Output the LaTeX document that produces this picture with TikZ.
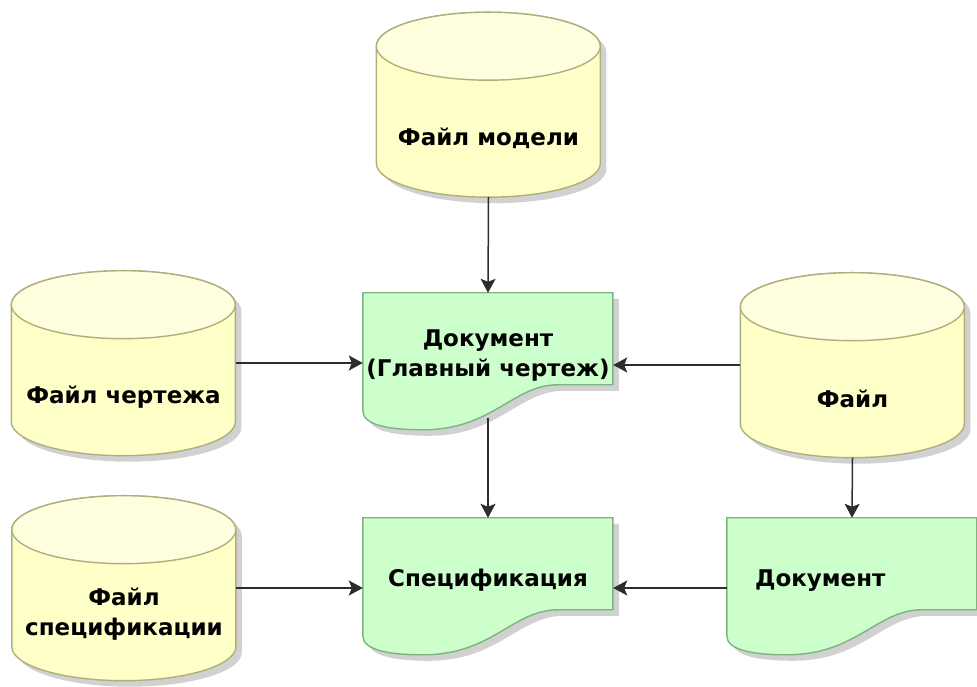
\documentclass[tikz,border=0pt]{standalone}
\usepackage{fontspec}
\setmainfont{DejaVu Sans}
\usetikzlibrary{shadows,arrows.meta,backgrounds}
\definecolor{cylfill}{RGB}{255,255,200}
\definecolor{cyltop}{RGB}{255,255,224}
\definecolor{cylline}{RGB}{175,175,125}
\definecolor{docfill}{RGB}{204,255,204}
\definecolor{docline}{RGB}{125,180,125}
\definecolor{arrline}{RGB}{45,45,45}
\tikzset{
  softshadow/.style={drop shadow={shadow xshift=6pt, shadow yshift=-6pt, opacity=.3, fill=black!60}},
  boldtext/.style={font=\bfseries\fontsize{23}{30}\selectfont, align=center},
  store/.style={minimum width=224pt, minimum height=185pt, inner sep=0pt},
  storebody/.style={draw=cylline, line width=1.4pt, fill=cylfill, softshadow},
  storecap/.style={draw=cylline, line width=1.4pt, fill=cyltop},
  paper/.style={minimum width=250pt, minimum height=125pt, inner sep=0pt, boldtext},
  paperline/.style={draw=docline, line width=1.4pt, fill=docfill, softshadow},
  flow/.style={-{Stealth[length=14pt, width=15pt, inset=3pt]}, line width=1.5pt, draw=arrline}
}
\begin{document}
\begin{tikzpicture}[x=1pt, y=1pt]
  \useasboundingbox (0,0) rectangle (977,687);

  % --- Bestanden (cilinders) ---
  \node[store, label={[boldtext, yshift=-34pt]center:Файл модели}] (model) at (488.5,582.5) {};
  \node[store, label={[boldtext, yshift=-34pt]center:Файл чертежа}] (drawing) at (123.5,324) {};
  \node[store, label={[boldtext, yshift=-34pt]center:Файл}] (file) at (852.5,322) {};
  \node[store, label={[boldtext, yshift=-26pt]center:{Файл\\спецификации}}] (specfile) at (124,99) {};

  % --- Documenten ---
  \node[paper] (doc1) at (488,331.5) {Документ\\(Главный чертеж)};
  \node[paper] (spec) at (488,106.5) {Спецификация};
  \node[paper, text width=194pt, inner xsep=28pt, align=left] (doc2) at (852,106.5) {Документ};

  \begin{scope}[on background layer]
    % Cilindervorm
    \foreach \c in {model, drawing, file, specfile} {
      \begin{scope}[shift={(\c.south west)}]
        \path[storebody] (0,151) -- (0,34)
          arc[start angle=180, end angle=360, x radius=112pt, y radius=34pt]
          -- (224,151)
          arc[start angle=0, end angle=180, x radius=112pt, y radius=34pt] -- cycle;
        \draw[storecap] (112,151) ellipse[x radius=112pt, y radius=34pt];
      \end{scope}
    }
    % Documentvorm met golvende onderkant
    \foreach \d in {doc1, spec, doc2} {
      \begin{scope}[shift={(\d.north west)}]
        \draw[paperline] (0,0) -- (250,0) -- (250,-92) -- (195,-92)
          .. controls (150,-92) and (130,-137) .. (60,-137)
          .. controls (25,-137) and (0,-132) .. (0,-118) -- cycle;
      \end{scope}
    }
  \end{scope}

  % --- Verbindingen ---
  \draw[flow] (model.south) -- (doc1.north);
  \draw[flow] (drawing.east) -- (drawing.east -| doc1.west);
  \draw[flow] (file.west) -- (file.west -| doc1.east);
  \draw[flow] (doc1.south) -- (spec.north);
  \draw[flow] (file.south) -- (doc2.north);
  \draw[flow] (specfile.east) -- (specfile.east -| spec.west);
  \draw[flow] (doc2.west |- specfile.east) -- (spec.east |- specfile.east);
\end{tikzpicture}
\end{document}
